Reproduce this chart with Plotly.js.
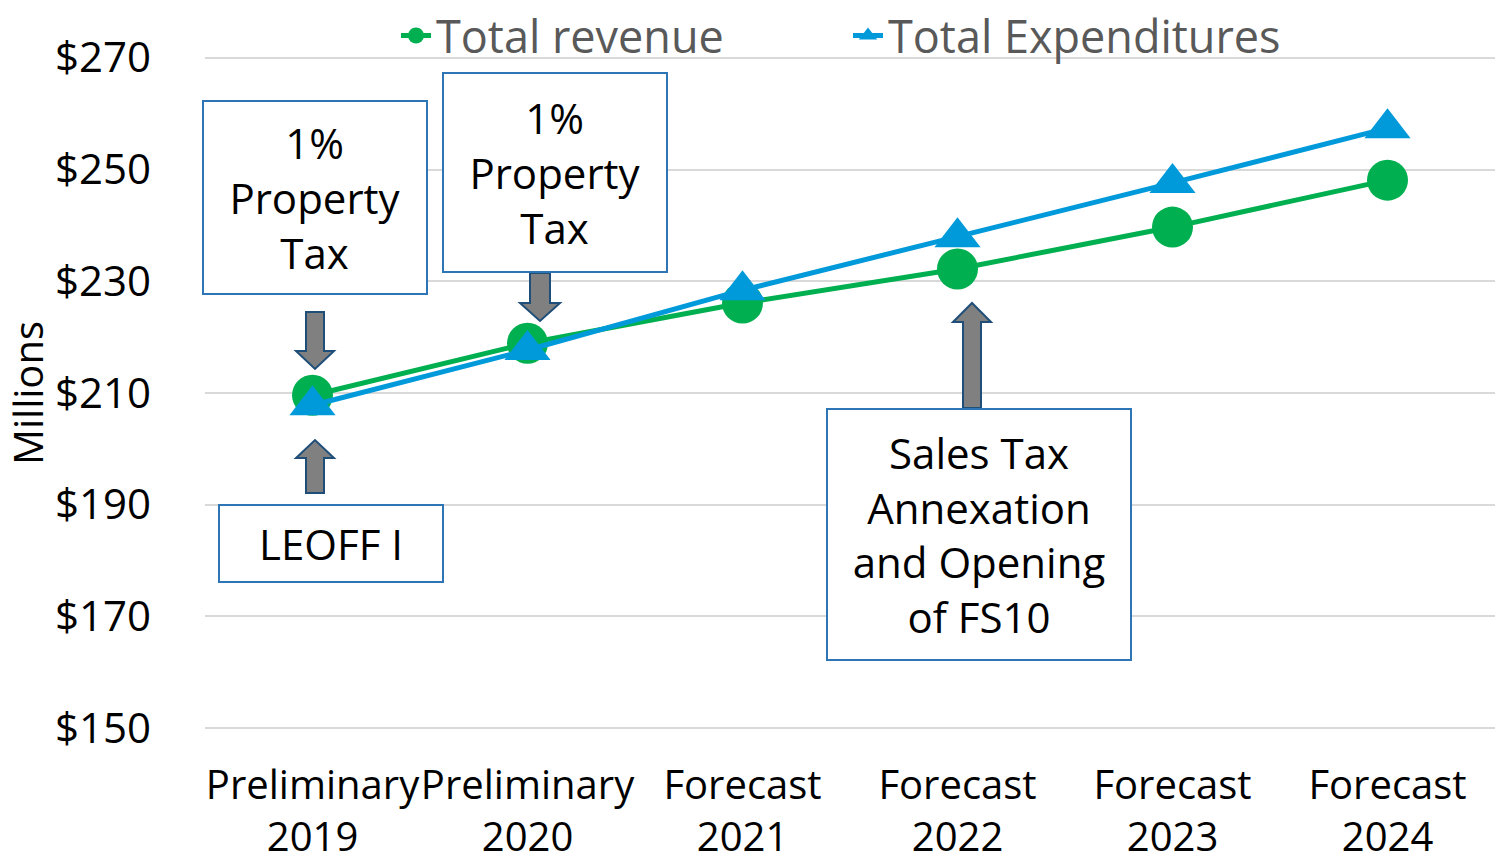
<!DOCTYPE html>
<html><head><meta charset="utf-8">
<script src="https://cdn.plot.ly/plotly-3.0.1.min.js"></script>
<style>html,body{margin:0;padding:0;background:#fff}#chart{width:1499px;height:865px}</style>
</head><body><div id="chart"></div>
<script>
const categories = ['Preliminary<br>2019','Preliminary<br>2020','Forecast<br>2021','Forecast<br>2022','Forecast<br>2023','Forecast<br>2024'];
const totalRevenue = [209.6, 218.9, 226.1, 232.2, 239.7, 248.1];
const totalExpenditures = [207.8, 217.7, 228.4, 237.9, 247.6, 257.4];
const yTickValues = [150, 170, 190, 210, 230, 250, 270];
const yTickLabels = ['$150', '$170', '$190', '$210', '$230', '$250', '$270'];
const noteTexts = ['1%<br>Property<br>Tax', '1%<br>Property<br>Tax', 'LEOFF I', 'Sales Tax<br>Annexation<br>and Opening<br>of FS10'];

const FONT = 'Open Sans, sans-serif';
// plot area in pixels for values 150..270 (range padded slightly so edge gridlines are drawn)
const Y0 = 150, Y1 = 270, PADV = 0.5;
const L = 205, R = 1495, T0 = 58, B0 = 728;
const pxPerUnit = (B0 - T0) / (Y1 - Y0);
const T = T0 - PADV * pxPerUnit, B = B0 + PADV * pxPerUnit;
const px = v => (v - L) / (R - L);
const py = v => (B - v) / (B - T);

function arrow(sx1, sx2, sEnd, hBase, hx1, hx2, tx, tip) {
  const p = [[sx1, sEnd], [sx2, sEnd], [sx2, hBase], [hx2, hBase], [tx, tip], [hx1, hBase], [sx1, hBase]];
  const d = 'M' + p.map(q => px(q[0]).toFixed(5) + ',' + py(q[1]).toFixed(5)).join(' L') + ' Z';
  return {type: 'path', xref: 'paper', yref: 'paper', path: d,
    fillcolor: '#808080', line: {color: '#1F4E79', width: 2}, layer: 'above'};
}

const shapes = [
  arrow(306, 324, 312, 351, 296, 334, 315, 369),
  arrow(306, 324, 493, 458, 296, 334, 315, 440),
  arrow(530, 550, 273, 303, 520, 560, 540, 321),
  arrow(963, 981, 408, 322, 953, 991, 972, 303)
];

function note(i, x, y, w, h) {
  return {text: noteTexts[i], x: x, y: y, xref: 'x', yref: 'y', showarrow: false,
    width: w, height: h, align: 'center', valign: 'middle',
    bordercolor: '#2E75B6', borderwidth: 2, borderpad: 0, bgcolor: '#FFFFFF',
    font: {family: FONT, size: 42, color: '#000000'}};
}
const annotations = [
  note(0, 0.012, 245.0, 222, 191),
  note(1, 1.128, 249.5, 222, 197),
  note(2, 0.086, 183.0, 222, 75),
  note(3, 3.100, 184.65, 302, 249)
];

const traces = [
  {x: categories, y: totalRevenue, name: 'Total revenue', type: 'scatter', mode: 'lines+markers',
   line: {color: '#00B050', width: 5}, marker: {color: '#00B050', size: 41, symbol: 'circle'}},
  {x: categories, y: totalExpenditures, name: 'Total Expenditures', type: 'scatter', mode: 'lines+markers',
   line: {color: '#009ADB', width: 5}, marker: {color: '#009ADB', size: 40, symbol: 'triangle-up'}}
];

const layout = {
  width: 1499, height: 865,
  margin: {l: L, r: 1499 - R, t: T, b: 865 - B, autoexpand: false},
  paper_bgcolor: '#FFFFFF', plot_bgcolor: '#FFFFFF',
  font: {family: FONT, size: 40, color: '#000000'},
  showlegend: true,
  legend: {orientation: 'h', x: px(396), xanchor: 'left', y: py(0), yanchor: 'top',
    font: {family: FONT, size: 45, color: '#595959'}, entrywidth: 407, entrywidthmode: 'pixels',
    bgcolor: 'rgba(0,0,0,0)'},
  xaxis: {type: 'category', range: [-0.5, 5.5], showgrid: false, zeroline: false, showline: false,
    ticks: '', tickangle: 0, tickfont: {family: FONT, size: 40, color: '#000000'}, ticklabelstandoff: 27, fixedrange: true},
  yaxis: {range: [Y0 - PADV, Y1 + PADV], tickvals: yTickValues, ticktext: yTickLabels, showgrid: true,
    gridcolor: '#D9D9D9', gridwidth: 2, zeroline: false, showline: false, ticks: '',
    tickfont: {family: FONT, size: 42, color: '#000000'}, ticklabelstandoff: 53,
    title: {text: 'Millions', font: {family: FONT, size: 40, color: '#000000'}, standoff: 2}, fixedrange: true},
  shapes: shapes,
  annotations: annotations
};

Plotly.newPlot('chart', traces, layout, {displayModeBar: false, staticPlot: true});
</script>
</body></html>
